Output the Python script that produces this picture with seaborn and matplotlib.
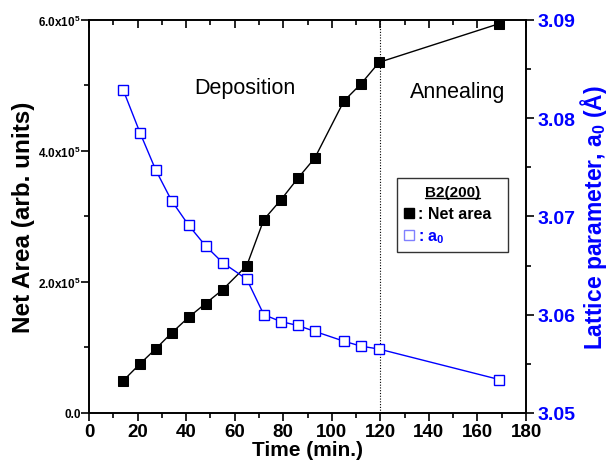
import matplotlib
matplotlib.use("Agg")
import matplotlib.pyplot as plt
import seaborn as sns
import pandas as pd
from matplotlib.lines import Line2D
from matplotlib.ticker import MultipleLocator

sns.set_theme(style="ticks")
plt.rcParams['font.family'] = ['Liberation Sans', 'DejaVu Sans']
plt.rcParams['mathtext.fontset'] = 'custom'
plt.rcParams['mathtext.rm'] = 'Liberation Sans:bold'
plt.rcParams['mathtext.bf'] = 'Liberation Sans:bold'
plt.rcParams['mathtext.it'] = 'Liberation Sans:bold'
plt.rcParams['mathtext.default'] = 'bf'
plt.rcParams['text.color'] = 'black'
plt.rcParams['axes.labelcolor'] = 'black'
plt.rcParams['xtick.color'] = 'black'
plt.rcParams['ytick.color'] = 'black'

time_min = [14, 21, 27.5, 34, 41, 48, 55, 65, 72, 79, 86, 93, 105, 112, 119.5, 169]
net_area = [49e3, 75e3, 98e3, 122e3, 146e3, 167e3, 188e3, 225e3, 295e3, 325e3,
            358e3, 389e3, 476e3, 502e3, 535e3, 594e3]
lattice_a0 = [3.0829, 3.0785, 3.0747, 3.0716, 3.0691, 3.0670, 3.0653, 3.0636,
              3.0600, 3.0593, 3.0589, 3.0583, 3.0573, 3.0568, 3.0565, 3.0534]

x_ticks = [0, 20, 40, 60, 80, 100, 120, 140, 160, 180]
left_ticks = [0, 2e5, 4e5, 6e5]
left_labels = ['0.0', '2.0x10$^{5}$', '4.0x10$^{5}$', '6.0x10$^{5}$']
right_ticks = [3.05, 3.06, 3.07, 3.08, 3.09]
right_labels = ['3.05', '3.06', '3.07', '3.08', '3.09']

df = pd.DataFrame({'time': time_min, 'area': net_area, 'a0': lattice_a0})

fig = plt.figure(figsize=(6.14, 4.77), dpi=100)
ax = fig.add_axes([0.145, 0.1321, 0.7117, 0.8245])
ax2 = ax.twinx()

sns.lineplot(data=df, x='time', y='area', ax=ax, color='black', marker='s',
             markersize=7.5, markeredgecolor='black', markerfacecolor='black',
             linewidth=1, legend=False)
sns.lineplot(data=df, x='time', y='a0', ax=ax2, color='#0000ff', marker='s',
             markersize=6.5, markeredgecolor='#0000ff', markerfacecolor='white',
             markeredgewidth=1, linewidth=1, legend=False)

ax.axvline(120, color='black', linestyle=(0, (1, 1.5)), linewidth=0.8)

ax.set_xlim(0, 180)
ax.set_ylim(0, 6e5)
ax2.set_ylim(3.05, 3.09)

ax.set_xticks(x_ticks)
ax.set_xticklabels([str(v) for v in x_ticks], fontsize=13.5, fontweight='bold')
ax.xaxis.set_minor_locator(MultipleLocator(10))
ax.set_yticks(left_ticks)
ax.set_yticklabels(left_labels, fontsize=8.5, fontweight='bold')
ax.yaxis.set_minor_locator(MultipleLocator(1e5))
ax2.set_yticks(right_ticks)
ax2.set_yticklabels(right_labels, fontsize=14, fontweight='bold', color='#0000ff')
ax2.yaxis.set_minor_locator(MultipleLocator(0.005))

for a in (ax, ax2):
    for s in a.spines.values():
        s.set_visible(True)
        s.set_color('black')
        s.set_linewidth(1.2)

ax.tick_params(axis='x', which='major', direction='out', length=6, width=1.2, pad=1,
               top=True, labeltop=False)
ax.tick_params(axis='x', which='minor', direction='out', length=3.5, width=1.2, top=True)
ax.tick_params(axis='y', which='major', direction='out', length=6, width=1.2, pad=0)
ax.tick_params(axis='y', which='minor', direction='out', length=3.5, width=1.2)
ax2.tick_params(axis='y', which='major', direction='out', length=6, width=1.2, pad=2)
ax2.tick_params(axis='y', which='minor', direction='out', length=3.5, width=1.2)
# top ticks point inward
for t in ax.xaxis.get_major_ticks():
    t.tick2line.set_marker(matplotlib.markers.TICKDOWN)
for t in ax.xaxis.get_minor_ticks():
    t.tick2line.set_marker(matplotlib.markers.TICKDOWN)

ax.set_xlabel('Time (min.)', fontsize=15, fontweight='bold', labelpad=0)
ax.set_ylabel('Net Area (arb. units)', fontsize=17.5, fontweight='bold', labelpad=2)
ax2.set_ylabel('Lattice parameter, a$_{0}$ (Å)', fontsize=16.5,
               fontweight='bold', color='#0000ff', labelpad=2)

ax.text(64, 4.96e5, 'Deposition', fontsize=15.5, ha='center', va='center')
ax.text(152, 4.91e5, 'Annealing', fontsize=15.5, ha='center', va='center')

# legend box
handles = [Line2D([], [], linestyle='none', marker='s', markersize=7.5,
                  color='black'),
           Line2D([], [], linestyle='none', marker='s', markersize=7.5,
                  markerfacecolor='white', markeredgecolor='#8080ff',
                  markeredgewidth=1)]
leg = ax2.legend(handles, [': Net area  ', ': a$_{0}$'], title='B2(200)',
                 loc='upper left', bbox_to_anchor=(0.704, 0.598),
                 frameon=True, fancybox=False, edgecolor='black',
                 handlelength=0.6, handletextpad=0.3, borderpad=0.45,
                 borderaxespad=0, labelspacing=0.45,
                 prop={'weight': 'bold', 'size': 11.5},
                 title_fontproperties={'weight': 'bold', 'size': 11})
leg.get_frame().set_linewidth(1.0)
leg.get_texts()[1].set_color('#0000ff')
leg.get_texts()[0].set_color('black')

fig.canvas.draw()
tt = leg.get_title()
bb = tt.get_window_extent().transformed(fig.transFigure.inverted())
fig.add_artist(Line2D([bb.x0, bb.x1], [bb.y0 + 0.002, bb.y0 + 0.002],
                      color='black', linewidth=1, transform=fig.transFigure))

fig.savefig('out.png', dpi=100)
